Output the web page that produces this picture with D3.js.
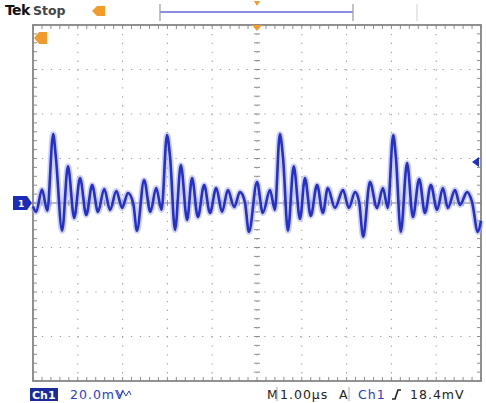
<!DOCTYPE html>
<html>
<head>
<meta charset="UTF-8">
<script src="https://cdn.jsdelivr.net/npm/d3@7"></script>
<style>
  body { margin: 0; background: #fff; font-family: 'DejaVu Sans', sans-serif; }
  .grid { stroke: #a0a0a0; stroke-width: 1.1; stroke-dasharray: 1.3, 7.6; }
  .tick { stroke: #8e8e8e; stroke-width: 1; }
  .status { font-size: 12.5px; letter-spacing: 1px; }
</style>
</head>
<body>
<svg id="scope" width="486" height="403"></svg>
<script>
// horizontal: 1.00 µs/div, 10 divisions ; vertical: 20.0 mV/div, 8 divisions
const timeDomain = [0, 10];      // µs
const voltDomain = [-80, 80];    // mV
const trigLevel = 18.4;          // mV

// peaks and troughs of the Ch1 trace
const times = [0.00, 0.07, 0.20, 0.32, 0.45, 0.51, 0.65, 0.78, 0.92, 1.05, 1.19, 1.32, 1.45, 1.59, 1.72,
  1.86, 1.99, 2.12, 2.24, 2.32, 2.48, 2.62, 2.75, 2.87, 2.99, 3.06, 3.17, 3.30, 3.44, 3.55,
  3.68, 3.82, 3.95, 4.09, 4.22, 4.35, 4.49, 4.62, 4.73, 4.82, 5.00, 5.13, 5.29, 5.40, 5.51,
  5.58, 5.69, 5.82, 5.96, 6.07, 6.20, 6.34, 6.47, 6.58, 6.74, 6.92, 7.05, 7.19, 7.28, 7.37,
  7.52, 7.68, 7.81, 7.92, 8.04, 8.10, 8.21, 8.35, 8.48, 8.62, 8.75, 8.88, 9.02, 9.15, 9.26,
  9.42, 9.53, 9.69, 9.80, 9.93, 10.00];
const ch1 = [-1.5, -4.0, 6.0, -3.5, 31.0, 20.6, -12.5, 16.5, -6.7, 11.2, -5.4, 8.1, -4.0, 6.3, -3.1,
  5.4, -2.2, 4.5, -0.5, -12.5, 10.3, -4.0, 6.7, -3.1, 30.5, 20.6, -12.1, 17.0, -7.6, 11.2,
  -6.3, 8.1, -4.5, 6.7, -4.0, 5.8, -1.8, 4.9, 0.4, -13.0, 9.4, -4.5, 5.8, -3.1, 31.0,
  20.6, -12.5, 16.5, -7.2, 11.2, -5.8, 8.1, -4.5, 6.7, -2.2, 5.8, -2.2, 4.9, 0.4, -15.2,
  9.4, -2.2, 6.7, -2.2, 30.5, 20.6, -13.0, 17.9, -6.3, 10.8, -4.5, 8.1, -3.1, 6.7, -2.2,
  5.8, -0.9, 4.9, 0.5, -13.0, -8.0];

const statusItems = [
  { text: "20.0mV", x: 70, fill: "#2b3ccc" },
  { text: "M", x: 267, fill: "#222" },
  { text: "1.00\u00b5s", x: 280, fill: "#222" },
  { text: "A", x: 339, fill: "#222" },
  { text: "Ch1", x: 358, fill: "#2b3ccc" },
  { text: "18.4mV", x: 410, fill: "#222" }
];

const svg = d3.select("#scope");
const x = d3.scaleLinear().domain(timeDomain).range([33, 481]);
const y = d3.scaleLinear().domain(voltDomain).range([381, 25]);

const [x0, x1] = x.range();
const [y1, y0] = y.range();

// dotted graticule
const g = svg.append("g");
g.selectAll("line.vgrid").data(d3.range(1, 10).filter(d => d !== 5)).enter().append("line")
  .attr("class", "grid")
  .attr("x1", d => x(d)).attr("x2", d => x(d))
  .attr("y1", y0).attr("y2", y1);
g.selectAll("line.hgrid").data(d3.range(-60, 61, 20).filter(d => d !== 0)).enter().append("line")
  .attr("class", "grid")
  .attr("y1", d => y(d)).attr("y2", d => y(d))
  .attr("x1", x0).attr("x2", x1);

// center cross
g.append("line").attr("x1", x(5)).attr("x2", x(5)).attr("y1", y0).attr("y2", y1)
  .attr("stroke", "#a8a8a8").attr("stroke-dasharray", "1.3,7.6");
g.append("line").attr("x1", x0).attr("x2", x1).attr("y1", y(0)).attr("y2", y(0))
  .attr("stroke", "#7a7a7a").attr("stroke-width", 1);

// minor ticks every 1/5 div
const tMinor = d3.range(0, 10.001, 0.2);
const vMinor = d3.range(-80, 80.001, 4);
g.selectAll("line.ct").data(tMinor).enter().append("line").attr("class", "tick")
  .attr("x1", d => x(d)).attr("x2", d => x(d)).attr("y1", y(0) - 3).attr("y2", y(0) + 3);
g.selectAll("line.cv").data(vMinor).enter().append("line").attr("class", "tick")
  .attr("y1", d => y(d)).attr("y2", d => y(d)).attr("x1", x(5) - 3).attr("x2", x(5) + 3);
g.selectAll("line.tt").data(tMinor).enter().append("line").attr("class", "tick")
  .attr("x1", d => x(d)).attr("x2", d => x(d)).attr("y1", y0).attr("y2", y0 + 4);
g.selectAll("line.bt").data(tMinor).enter().append("line").attr("class", "tick")
  .attr("x1", d => x(d)).attr("x2", d => x(d)).attr("y1", y1).attr("y2", y1 - 4);
g.selectAll("line.lt").data(vMinor).enter().append("line").attr("class", "tick")
  .attr("y1", d => y(d)).attr("y2", d => y(d)).attr("x1", x0).attr("x2", x0 + 4);
g.selectAll("line.rt").data(vMinor).enter().append("line").attr("class", "tick")
  .attr("y1", d => y(d)).attr("y2", d => y(d)).attr("x1", x1).attr("x2", x1 - 4);

g.append("rect").attr("x", x0).attr("y", y0).attr("width", x1 - x0).attr("height", y1 - y0)
  .attr("fill", "none").attr("stroke", "#858585").attr("stroke-width", 1.8);

// waveform
const pts = times.map((t, i) => [t, ch1[i]]);
const line = d3.line().x(d => x(d[0])).y(d => y(d[1])).curve(d3.curveMonotoneX);
svg.append("path").datum(pts).attr("d", line)
  .attr("fill", "none").attr("stroke", "#a3a8f0").attr("stroke-width", 6).attr("stroke-opacity", 0.55)
  .attr("stroke-linejoin", "round");
svg.append("path").datum(pts).attr("d", line)
  .attr("fill", "none").attr("stroke", "#2430c8").attr("stroke-width", 2.6)
  .attr("stroke-linejoin", "round");

// markers
const orange = "#f39a2a";
svg.append("path").attr("d", `M${x0 - 20},${y(0) - 7}H${x0 - 6}L${x0 - 1},${y(0)}L${x0 - 6},${y(0) + 7}H${x0 - 20}Z`)
  .attr("fill", "#1d2cb8");
svg.append("text").attr("x", x0 - 15).attr("y", y(0) + 4).attr("fill", "#fff")
  .attr("font-size", 9).attr("font-weight", "bold").text("1");
svg.append("path").attr("d", `M${x1 - 9},${y(trigLevel)}L${x1 - 2},${y(trigLevel) - 5}V${y(trigLevel) + 5}Z`)
  .attr("fill", "#2030c0");
svg.append("path").attr("d", `M${x0 + 1},${y0 + 13}L${x0 + 6},${y0 + 7}H${x0 + 14}V${y0 + 19}H${x0 + 6}Z`)
  .attr("fill", orange);
svg.append("path").attr("d", `M${x(5) - 5},${y0}H${x(5) + 5}L${x(5)},${y0 + 6}Z`).attr("fill", orange);
svg.append("path").attr("d", `M${x(5) - 3},1H${x(5) + 3}L${x(5)},6Z`).attr("fill", orange);

// record view at top
svg.append("line").attr("x1", 160).attr("x2", 353).attr("y1", 12).attr("y2", 12)
  .attr("stroke", "#8c8ee0").attr("stroke-width", 2);
[160, 353, 417].forEach(v => svg.append("line").attr("x1", v).attr("x2", v).attr("y1", 4).attr("y2", 21)
  .attr("stroke", v === 417 ? "#d8d8d8" : "#9a9a9a").attr("stroke-width", 1.2));

// top status
svg.append("text").attr("x", 5).attr("y", 15).attr("font-size", 14).attr("font-weight", "bold")
  .attr("fill", "#111").attr("letter-spacing", -0.6).text("Tek");
svg.append("text").attr("x", 33).attr("y", 15).attr("font-size", 12.5).attr("font-weight", "bold")
  .attr("fill", "#444").text("Stop");
svg.append("rect").attr("x", 97).attr("y", 6).attr("width", 8).attr("height", 10).attr("fill", orange);
svg.append("path").attr("d", "M92,11L97,6V16Z").attr("fill", orange);

// bottom status
svg.append("rect").attr("x", 30).attr("y", 388).attr("width", 28).attr("height", 13).attr("fill", "#1c2a9c");
svg.append("text").attr("x", 32).attr("y", 399).attr("font-size", 11).attr("font-weight", "bold")
  .attr("fill", "#fff").text("Ch1");
svg.selectAll("text.status").data(statusItems).enter().append("text")
  .attr("class", "status")
  .attr("x", d => d.x).attr("y", 399).attr("fill", d => d.fill).text(d => d.text);
svg.append("path").attr("d", "M117,390l3,6l3,-5l3,5l3,-5l2,4")
  .attr("fill", "none").attr("stroke", "#2b3ccc").attr("stroke-width", 1);
[277, 349].forEach(v => svg.append("line").attr("x1", v).attr("x2", v).attr("y1", 387).attr("y2", 401)
  .attr("stroke", "#aaa"));
svg.append("path").attr("d", "M392,399h3l3,-9h3").attr("fill", "none").attr("stroke", "#222").attr("stroke-width", 1.6);
</script>
</body>
</html>
